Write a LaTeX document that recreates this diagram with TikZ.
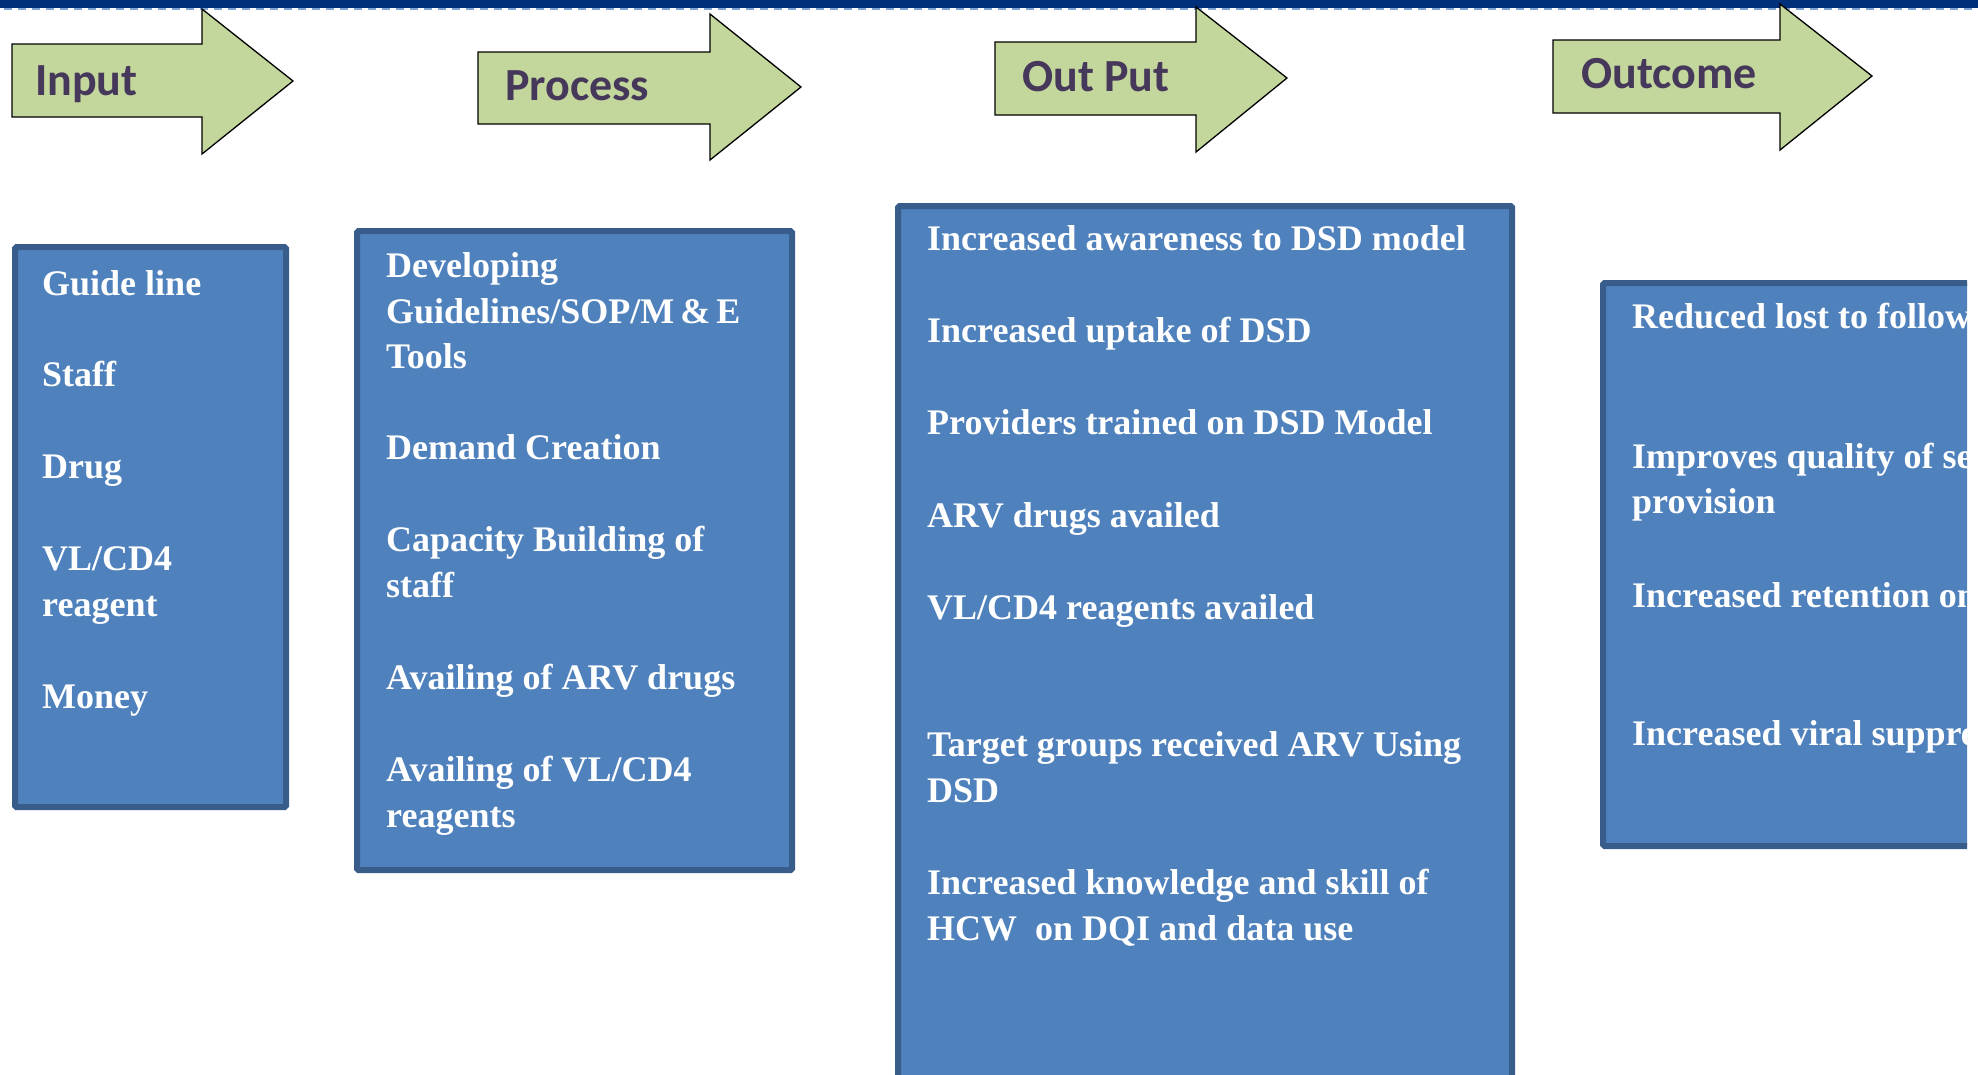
\documentclass[tikz,border=0pt]{standalone}
\usepackage{fontspec}
\setmainfont{Liberation Serif}
\newfontfamily\arrowfont{Carlito}
\definecolor{boxfill}{HTML}{4F81BD}
\definecolor{boxline}{HTML}{385D8A}
\definecolor{arrowfill}{HTML}{C3D69B}
\definecolor{labelcol}{HTML}{45385A}
\definecolor{navy}{HTML}{00307A}
\definecolor{dashblue}{HTML}{7FA3D2}
\begin{document}
\begin{tikzpicture}[x=1pt,y=-1pt,
  box/.style={fill=boxfill,draw=boxline,line width=6pt,rounded corners=1.5pt},
  item/.style={anchor=base west,inner sep=0pt,text=white,font=\fontsize{36}{46}\selectfont\bfseries},
  arrowshape/.style={fill=arrowfill,draw=black,line width=1.3pt,line join=miter},
  arrowlabel/.style={anchor=base west,inner sep=0pt,text=labelcol,font=\arrowfont\fontsize{46}{50}\selectfont\bfseries}]
\useasboundingbox (0,0) rectangle (1978,1074);
% top banner
\fill[navy] (0,0) rectangle (1978,8);
\draw[dashblue,line width=1.6pt,dash pattern=on 8pt off 6pt] (4,9) -- (1978,9);

% arrows
\draw[arrowshape] (12,44) -- (202,44) -- (202,9) -- (293,81) -- (202,154) -- (202,117) -- (12,117) -- cycle;
\draw[arrowshape] (478,52) -- (710,52) -- (710,14) -- (801,87) -- (710,160) -- (710,124) -- (478,124) -- cycle;
\draw[arrowshape] (995,42) -- (1196,42) -- (1196,7) -- (1287,78) -- (1196,152) -- (1196,115) -- (995,115) -- cycle;
\draw[arrowshape] (1553,40) -- (1780,40) -- (1780,4) -- (1872,76) -- (1780,150) -- (1780,113) -- (1553,113) -- cycle;
\node[arrowlabel] (linput) at (35,95) {Input};
\node[arrowlabel] (lprocess) at (505,100) {Process};
\node[arrowlabel] (loutput) at (1022,91) {Out Put};
\node[arrowlabel] (loutcome) at (1581,88) {Outcome};

% Input box
\draw[box] (15,247) rectangle (286,807);
\node[item] (i1) at (42,295) {Guide line};
\node[item] (i2) at (42,386) {Staff};
\node[item] (i3) at (42,478) {Drug};
\node[item] (i4a) at (42,570) {VL/CD4};
\node[item] (i4b) at (42,616) {reagent};
\node[item] (i5) at (42,708) {Money};

% Process box
\draw[box] (357,231) rectangle (792,870);
\node[item] (p1a) at (386,277) {Developing};
\node[item] (p1b) at (386,323) {Guidelines/SOP/M\,\&\,E};
\node[item] (p1c) at (386,368) {Tools};
\node[item] (p2) at (386,459) {Demand Creation};
\node[item] (p3a) at (386,551) {Capacity Building of};
\node[item] (p3b) at (386,597) {staff};
\node[item] (p4) at (386,689) {Availing of ARV drugs};
\node[item] (p5a) at (386,781) {Availing of VL/CD4};
\node[item] (p5b) at (386,827) {reagents};

% Output box
\draw[box] (898,206) rectangle (1512,1095);
\node[item] (o1) at (927,250) {Increased awareness to DSD model};
\node[item] (o2) at (927,342) {Increased uptake of DSD};
\node[item] (o3) at (927,434) {Providers trained on DSD Model};
\node[item] (o4) at (927,527) {ARV drugs availed};
\node[item] (o5) at (927,619) {VL/CD4 reagents availed};
\node[item] (o6a) at (927,756) {Target groups received ARV Using};
\node[item] (o6b) at (927,802) {DSD};
\node[item] (o7a) at (927,894) {Increased knowledge and skill of};
\node[item] (o7b) at (927,940) {HCW\ \ on DQI and data use};

% Outcome box (cut at the right edge)
\begin{scope}
\clip (0,0) rectangle (1967,1074);
\draw[box] (1603,283) rectangle (2010,846);
\node[item] (u1) at (1632,328) {Reduced lost to follow up};
\node[item] (u2a) at (1632,468) {Improves quality of service};
\node[item] (u2b) at (1632,513) {provision};
\node[item] (u3) at (1632,607) {Increased retention on care};
\node[item] (u4) at (1632,745) {Increased viral suppression};
\end{scope}
\end{tikzpicture}
\end{document}
